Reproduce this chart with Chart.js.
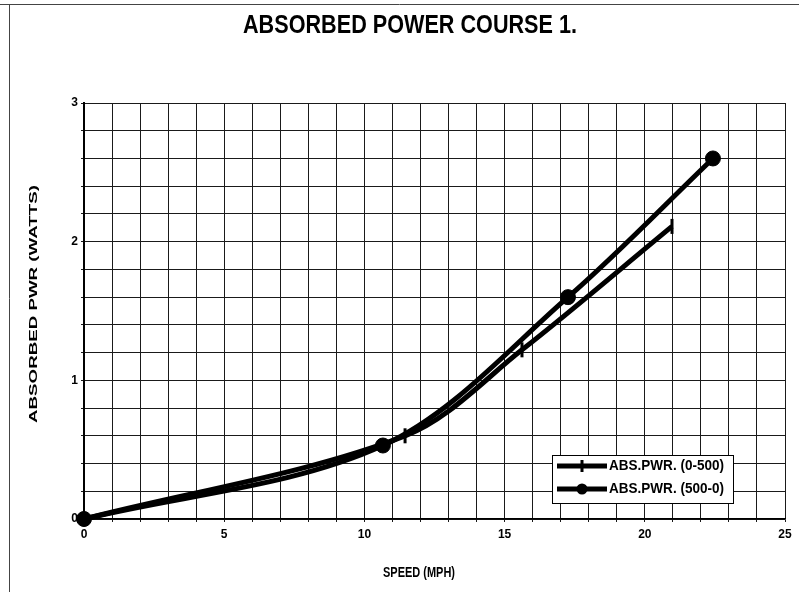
<!DOCTYPE html>
<html>
<head>
<meta charset="utf-8">
<script src="https://cdn.jsdelivr.net/npm/chart.js@4.4.1/dist/chart.umd.min.js"></script>
<style>
  html, body { margin: 0; padding: 0; background: #fff; }
  #wrap { width: 799px; height: 592px; position: relative; }
</style>
</head>
<body>
<div id="wrap"><canvas id="c" width="799" height="592"></canvas></div>
<script>
// ---- data ----
const chartTitle = 'ABSORBED POWER COURSE 1.';
const xTitle = 'SPEED (MPH)';
const yTitle = 'ABSORBED PWR (WATTS)';
const seriesNames = ['ABS.PWR. (0-500)', 'ABS.PWR. (500-0)'];
const speed1 = [0, 11.45, 15.62, 20.97];
const power1 = [0, 0.60, 1.22, 2.11];
const speed2 = [0, 10.66, 17.26, 22.43];
const power2 = [0, 0.53, 1.60, 2.60];
const xTickLabels = [0, 5, 10, 15, 20, 25];
const yTickLabels = [0, 1, 2, 3];

const FONT = '"Liberation Sans", Arial, Helvetica, sans-serif';

function pts(xs, ys) { return xs.map((x, i) => ({ x: x, y: ys[i] })); }

function stretchedText(ctx, text, x, y, size, targetW, sy, rot, align) {
  ctx.save();
  ctx.font = 'bold ' + size + 'px ' + FONT;
  const w = ctx.measureText(text).width;
  const sx = targetW ? targetW / w : 1;
  ctx.translate(x, y);
  ctx.rotate(rot || 0);
  ctx.scale(sx, sy);
  ctx.textAlign = align || 'center';
  ctx.textBaseline = 'middle';
  ctx.fillStyle = '#000';
  ctx.fillText(text, 0, 0);
  ctx.restore();
}

const decor = {
  id: 'decor',
  beforeDraw(chart) {
    const ctx = chart.ctx;
    ctx.save();
    ctx.fillStyle = '#fff';
    ctx.fillRect(0, 0, chart.width, chart.height);
    ctx.strokeStyle = '#444';
    ctx.lineWidth = 1;
    ctx.beginPath();
    ctx.moveTo(0, 4.5); ctx.lineTo(chart.width, 4.5);
    ctx.moveTo(9.5, 5); ctx.lineTo(9.5, chart.height);
    ctx.stroke();
    ctx.restore();
  },
  afterDraw(chart) {
    const ctx = chart.ctx;
    stretchedText(ctx, chartTitle, 410, 26, 22, 334, 1.15, 0);
    stretchedText(ctx, xTitle, 419, 573, 11, 72, 1.35, 0);
    stretchedText(ctx, yTitle, 34, 304, 11.5, 238, 1.0, -Math.PI / 2);

    // legend box inside plot
    const bx = 552, by = 455, bw = 181, bh = 48;
    ctx.save();
    ctx.fillStyle = '#fff';
    ctx.fillRect(bx, by, bw, bh);
    ctx.strokeStyle = '#000';
    ctx.lineWidth = 1;
    ctx.strokeRect(bx + 0.5, by + 0.5, bw, bh);
    chart.data.datasets.forEach((ds, i) => {
      const yy = by + 11 + i * 23;
      ctx.strokeStyle = '#000';
      ctx.lineWidth = 5;
      ctx.beginPath();
      ctx.moveTo(bx + 5, yy); ctx.lineTo(bx + 55, yy);
      ctx.stroke();
      const mx = bx + 30;
      if (i === 0) {
        ctx.lineWidth = 3;
        ctx.beginPath();
        ctx.moveTo(mx, yy - 6); ctx.lineTo(mx, yy + 6);
        ctx.stroke();
      } else {
        ctx.fillStyle = '#000';
        ctx.beginPath();
        ctx.arc(mx, yy, 5.5, 0, Math.PI * 2);
        ctx.fill();
      }
      stretchedText(ctx, ds.label, bx + 57, yy, 12.5, 115, 1.15, 0, 'left');
    });
    ctx.restore();
  }
};

new Chart(document.getElementById('c'), {
  type: 'scatter',
  data: {
    datasets: [
      {
        label: seriesNames[0],
        data: pts(speed1, power1),
        showLine: true,
        borderColor: '#000',
        backgroundColor: '#000',
        borderWidth: 5,
        tension: 0.33,
        pointStyle: 'line',
        rotation: 90,
        pointRadius: 7.5,
        pointBorderWidth: 3,
        pointBorderColor: '#000',
        clip: false
      },
      {
        label: seriesNames[1],
        data: pts(speed2, power2),
        showLine: true,
        borderColor: '#000',
        backgroundColor: '#000',
        borderWidth: 5,
        tension: 0.33,
        pointStyle: 'circle',
        pointRadius: 7.5,
        pointBorderWidth: 1,
        pointBackgroundColor: '#000',
        pointBorderColor: '#000',
        clip: false
      }
    ]
  },
  options: {
    responsive: false,
    animation: false,
    devicePixelRatio: 1,
    layout: { padding: { left: 10, right: 14, top: 103, bottom: 5 } },
    plugins: {
      legend: { display: false },
      title: { display: false },
      tooltip: { enabled: false }
    },
    scales: {
      x: {
        type: 'linear',
        min: 0, max: 25,
        afterFit(s) { s.height = 68; },
        border: { color: '#000', width: 1.5 },
        grid: { color: '#1a1a1a', lineWidth: 1, tickLength: 3 },
        ticks: {
          stepSize: 1, autoSkip: false, maxRotation: 0, padding: 5,
          color: '#000',
          font: { family: FONT, size: 12, weight: 'bold' },
          callback(v) { const r = Math.round(v); return xTickLabels.includes(r) && Math.abs(v - r) < 1e-6 ? String(r) : ''; }
        }
      },
      y: {
        type: 'linear',
        min: 0, max: 3,
        afterFit(s) { s.width = 74; },
        border: { color: '#000', width: 2 },
        grid: { color: '#1a1a1a', lineWidth: 1, tickLength: 3 },
        ticks: {
          stepSize: 0.2, autoSkip: false, padding: 3,
          color: '#000',
          font: { family: FONT, size: 12, weight: 'bold' },
          callback(v) {
            const r = Math.round(v);
            return Math.abs(v - r) < 1e-6 && yTickLabels.includes(r) ? String(r) : '';
          }
        }
      }
    }
  },
  plugins: [decor]
});
</script>
</body>
</html>
